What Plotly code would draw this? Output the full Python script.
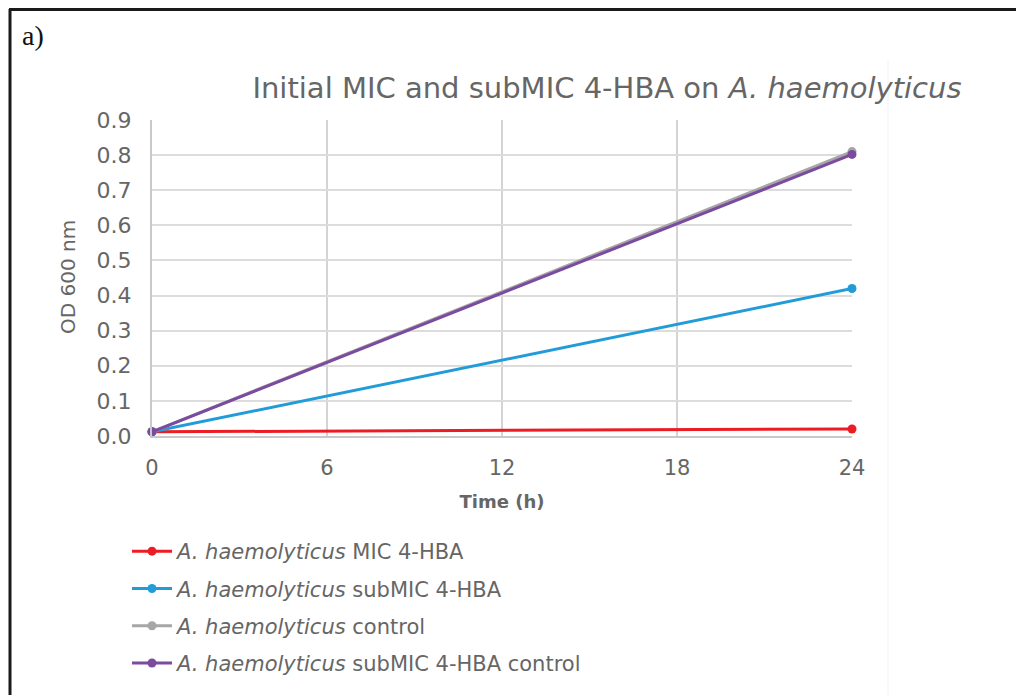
import plotly.graph_objects as go

# Time points (h) and OD600 readings per treatment
time_h = [0, 24]
mic_4hba = [0.012, 0.020]
submic_4hba = [0.012, 0.42]
control = [0.012, 0.81]
submic_control = [0.012, 0.802]

series_names = [
    "<i>A. haemolyticus</i> MIC 4-HBA",
    "<i>A. haemolyticus</i> subMIC 4-HBA",
    "<i>A. haemolyticus</i> control",
    "<i>A. haemolyticus</i> subMIC 4-HBA control",
]
series_values = [mic_4hba, submic_4hba, control, submic_control]
series_colors = ["#ec1c24", "#229cd8", "#a6a6a6", "#7a4b9f"]

x_ticks = [0, 6, 12, 18, 24]
y_ticks = [0.0, 0.1, 0.2, 0.3, 0.4, 0.5, 0.6, 0.7, 0.8, 0.9]

W, H = 1016, 695
L, R, T, B = 152, 852, 120, 436  # plot-area pixel box

FONT = "'DejaVu Sans', Lato, sans-serif"
TXT = "#666666"

fig = go.Figure()
for i, (name, vals, col) in enumerate(zip(series_names, series_values, series_colors)):
    fig.add_trace(go.Scatter(
        x=time_h, y=vals, name=name, mode="lines+markers",
        line=dict(color=col, width=3),
        marker=dict(color=col, size=9),
        cliponaxis=False,
        legendgroup=f"g{i}",
    ))


def px_x(p):
    return (p - L) / (R - L)


def px_y(p):
    return (B - p) / (B - T)


shapes = [
    # frame lines around the panel
    dict(type="line", xref="paper", yref="paper", x0=px_x(9), x1=px_x(W + 5),
         y0=px_y(9.5), y1=px_y(9.5), line=dict(color="#1a1a1a", width=3)),
    dict(type="line", xref="paper", yref="paper", x0=px_x(10), x1=px_x(10),
         y0=px_y(9), y1=px_y(H + 5), line=dict(color="#1a1a1a", width=3)),
    # faint chart-area edge
    dict(type="line", xref="paper", yref="paper", x0=px_x(888), x1=px_x(888),
         y0=px_y(60), y1=px_y(H), line=dict(color="#f2f2f2", width=1)),
]

fig.update_layout(
    width=W, height=H,
    margin=dict(l=L, r=W - R, t=T, b=H - B, autoexpand=False),
    paper_bgcolor="white", plot_bgcolor="white",
    font=dict(family=FONT, color=TXT),
    title=dict(
        text="Initial MIC and subMIC 4-HBA on <i>A. haemolyticus</i>",
        x=607 / W, xref="container", xanchor="center",
        y=1 - 88 / H, yref="container", yanchor="middle",
        font=dict(size=29, color=TXT, family=FONT),
    ),
    xaxis=dict(
        range=[0, 24], tickvals=x_ticks, ticktext=[str(v) for v in x_ticks],
        showgrid=True, gridcolor="#d4d4d4", gridwidth=1.5,
        zeroline=False, showline=True, linecolor="#c8c8c8", linewidth=2,
        ticks="", tickfont=dict(size=21, color=TXT), ticklabelstandoff=12,
        title=dict(text="<b>Time (h)</b>", font=dict(size=18, color=TXT), standoff=16),
        automargin=False,
    ),
    yaxis=dict(
        range=[0, 0.9], tickvals=y_ticks, ticktext=[f"{v:.1f}" for v in y_ticks],
        showgrid=True, gridcolor="#dcdcdc", gridwidth=1.5,
        zeroline=False, showline=True, linecolor="#c8c8c8", linewidth=2,
        ticks="", tickfont=dict(size=22, color=TXT), ticklabelstandoff=14,
        automargin=False,
    ),
    legend=dict(
        x=127 / W, xref="container", xanchor="left",
        y=1 - 531 / H, yref="container", yanchor="top",
        font=dict(size=21, color=TXT),
        tracegroupgap=7, itemwidth=40,
        bgcolor="rgba(0,0,0,0)",
    ),
    showlegend=True,
    shapes=shapes,
    annotations=[
        dict(text="a)", xref="paper", yref="paper", x=px_x(20), y=px_y(36),
             xanchor="left", yanchor="middle", showarrow=False,
             font=dict(family="'Liberation Serif', 'Times New Roman', serif", size=28, color="#111111")),
        dict(text="OD 600 nm", xref="paper", yref="paper", x=px_x(68), y=px_y(277),
             xanchor="center", yanchor="middle", showarrow=False, textangle=-90,
             font=dict(size=20, color=TXT)),
    ],
)

fig.write_html("out.html")
